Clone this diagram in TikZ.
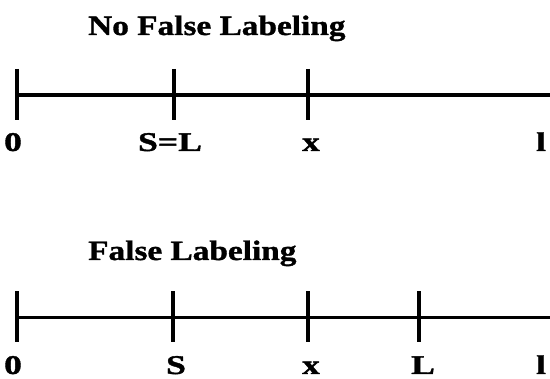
\documentclass[tikz,border=0pt]{standalone}
\usepackage{fontspec}
\setmainfont{Liberation Serif}[FakeStretch=1.19, BoldFeatures={FakeBold=1.2}]
\newfontfamily\lblfont{Liberation Serif}[FakeStretch=1.32, BoldFeatures={FakeBold=1.4}]
\begin{document}
\begin{tikzpicture}[x=1pt, y=-1pt,
    axis/.style={line width=3.3pt},
    tickmark/.style={line width=4pt},
    heading/.style={font=\fontsize{28}{28}\selectfont\bfseries, anchor=base west, inner sep=0pt},
    lbl/.style={font=\lblfont\fontsize{27}{27}\selectfont\bfseries, anchor=base, inner sep=0pt}]
  \useasboundingbox (0,0) rectangle (550,379);

  % Upper scale: no false labeling
  \node[heading] (t1) at (88,35) {No False Labeling};
  \coordinate (a0) at (16.5,95);
  \coordinate (aS) at (174,95);
  \coordinate (ax) at (308,95);
  \coordinate (aend) at (552,95);
  \draw[axis] (a0) -- (aend);
  \foreach \p in {a0,aS,ax}
    \draw[tickmark] ([yshift=26pt]\p) -- ([yshift=-25pt]\p);
  \node[lbl] (a0l) at (13,151) {0};
  \node[lbl] (aSl) at (170,151) {S=L};
  \node[lbl] (axl) at (311,151) {x};
  \node[lbl, anchor=base west] (a1l) at (536,151) {l};

  % Lower scale: false labeling
  \node[heading] (t2) at (88,260) {False Labeling};
  \coordinate (b0) at (16.5,317.5);
  \coordinate (bS) at (173,317.5);
  \coordinate (bx) at (308,317.5);
  \coordinate (bL) at (419,317.5);
  \coordinate (bend) at (552,317.5);
  \draw[axis] (b0) -- (bend);
  \foreach \p in {b0,bS,bx,bL}
    \draw[tickmark] ([yshift=26pt]\p) -- ([yshift=-25pt]\p);
  \node[lbl] (b0l) at (13,374) {0};
  \node[lbl] (bSl) at (176,374) {S};
  \node[lbl] (bxl) at (311,374) {x};
  \node[lbl] (bLl) at (423,374) {L};
  \node[lbl, anchor=base west] (b1l) at (536,374) {l};
\end{tikzpicture}
\end{document}
